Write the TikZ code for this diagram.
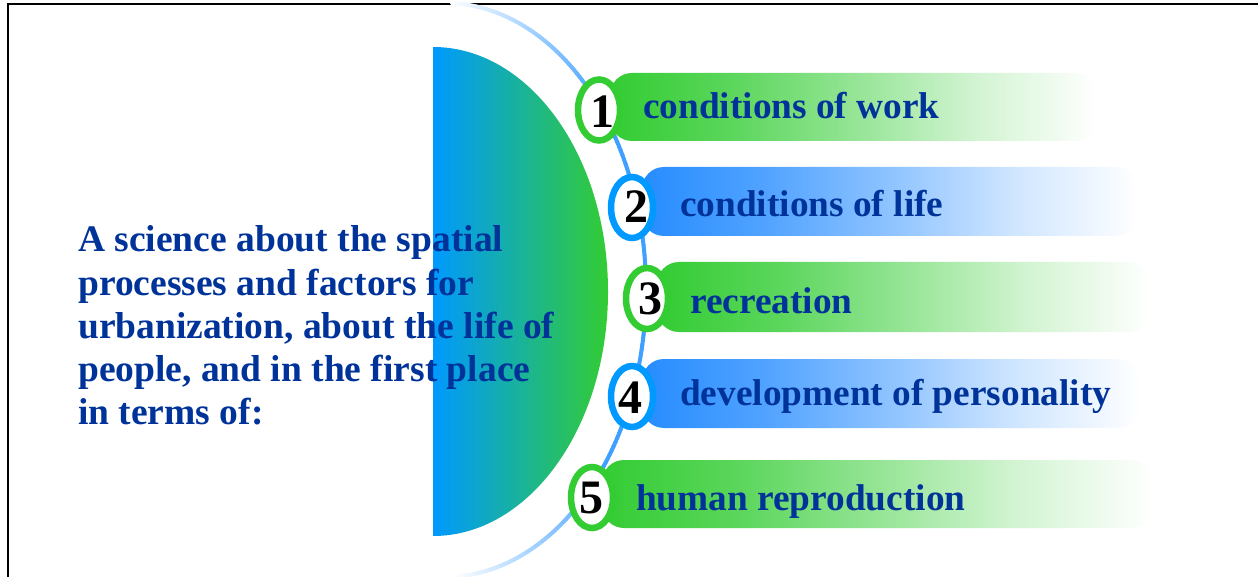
\documentclass[tikz,border=0pt]{standalone}
\usepackage{fontspec}
\setmainfont{Liberation Serif}
\usetikzlibrary{shapes.geometric}
\definecolor{gbar}{RGB}{51,204,51}
\definecolor{bbar}{RGB}{38,140,255}
\definecolor{txt}{RGB}{0,51,153}
\definecolor{arcb}{RGB}{64,160,255}
\definecolor{discb}{RGB}{0,153,255}
\definecolor{discg}{RGB}{51,204,51}
\pgfdeclarehorizontalshading{gshade}{100bp}{color(0bp)=(gbar); color(25bp)=(gbar); color(37.5bp)=(gbar!80!white); color(50bp)=(gbar!52!white); color(62.5bp)=(gbar!22!white); color(75bp)=(white); color(100bp)=(white)}
\pgfdeclarehorizontalshading{bshade}{100bp}{color(0bp)=(bbar); color(25bp)=(bbar); color(37.5bp)=(bbar!80!white); color(50bp)=(bbar!52!white); color(62.5bp)=(bbar!22!white); color(75bp)=(white); color(100bp)=(white)}
\begin{document}
\begin{tikzpicture}[x=1pt,y=-1pt,
  barg/.style={shading=gshade, rounded corners=22},
  barb/.style={shading=bshade, rounded corners=22},
  bubble/.style={ellipse, draw, fill=white, line width=6.5, minimum width=42, minimum height=61, inner sep=0, outer sep=0},
  bubg/.style={bubble, draw=gbar},
  bubb/.style={bubble, draw=discb},
  num/.style={anchor=base, inner sep=0, font=\fontsize{48}{48}\selectfont\bfseries, text=black},
  itemtxt/.style={anchor=base west, inner sep=0, font=\fontsize{37.3}{43}\selectfont\bfseries, text=txt},
  lefttxt/.style={anchor=base west, inner sep=0, font=\fontsize{37.5}{43}\selectfont\bfseries, text=txt}
]
\useasboundingbox (0,0) rectangle (1258,577);
\fill[white] (0,0) rectangle (1258,577);
% frame
\draw[line width=2] (7.7,577) -- (7.7,4.3) -- (1258,4.3);
% half disc
\shade[left color=discb, right color=discg] (433,47) arc[start angle=-90, end angle=90, x radius=175, y radius=244.5] -- cycle;
% arc with faded ends
\foreach \t in {-88,...,87}{
  \pgfmathsetmacro\p{min(100,max(0,(88-abs(\t+0.5))*100/50))}
  \draw[line width=4, line cap=round, color=arcb!\p!white]
    ({445+201*cos(\t)},{290+287*sin(\t)}) -- ({445+201*cos(\t+1)},{290+287*sin(\t+1)});
}
% bars
\shade[barg] (610,73) rectangle (1098,141);
\shade[barb] (642,167) rectangle (1138,236);
\shade[barg] (657,262) rectangle (1150,332);
\shade[barb] (642,359) rectangle (1140,428);
\shade[barg] (602,460) rectangle (1153,528);
% bubbles
\node[bubg] (b1) at (599,110) {};
\node[bubb] (b2) at (632,207.5) {};
\node[bubg] (b3) at (647,298.5) {};
\node[bubb] (b4) at (632,396.5) {};
\node[bubg] (b5) at (592,497.5) {};
% numbers
\node[num] (n1) at (602,128) {1};
\node[num] (n2) at (636,223) {2};
\node[num] (n3) at (650,315) {3};
\node[num] (n4) at (630,413) {4};
\node[num] (n5) at (591,513) {5};
% item texts
\node[itemtxt] (t1) at (643,119) {conditions of work};
\node[itemtxt] (t2) at (680,217) {conditions of life};
\node[itemtxt] (t3) at (690,313) {recreation};
\node[itemtxt] (t4) at (680,405) {development of personality};
\node[itemtxt] (t5) at (636,510) {human reproduction};
% left text
\node[lefttxt] (l1) at (78,252) {A science about the spatial};
\node[lefttxt] (l2) at (78,295) {processes and factors for};
\node[lefttxt] (l3) at (78,338) {urbanization, about the life of};
\node[lefttxt] (l4) at (78,381) {people, and in the first place};
\node[lefttxt] (l5) at (78,424) {in terms of:};
\end{tikzpicture}
\end{document}
